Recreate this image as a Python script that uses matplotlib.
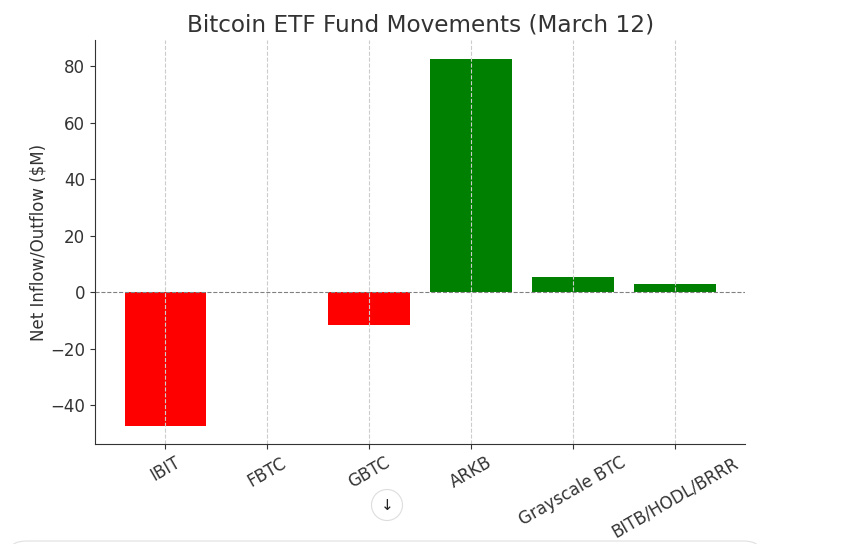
import matplotlib
matplotlib.use("Agg")
import matplotlib.pyplot as plt
from matplotlib.patches import Circle, FancyBboxPatch

funds = ["IBIT", "FBTC", "GBTC", "ARKB", "Grayscale BTC", "BITB/HODL/BRRR"]
flows = [-47.1, 0.0, -11.7, 82.6, 5.4, 2.9]
colors = ["red" if v < 0 else "green" for v in flows]

plt.rcParams['font.family'] = ['DejaVu Sans']
fig = plt.figure(figsize=(8.41, 5.44), dpi=100)
ax = fig.add_axes([0.113, 0.184, 0.773, 0.742])

ax.bar(funds, flows, color=colors, width=0.8)
ax.axhline(0, color="gray", linestyle="--", linewidth=0.8)
ax.grid(axis="x", linestyle="--", color="#cccccc", linewidth=0.8)

ax.set_title("Bitcoin ETF Fund Movements (March 12)", fontsize=16.7, color="#333333")
ax.set_ylabel("Net Inflow/Outflow ($M)", fontsize=12, color="#333333", labelpad=2)
ax.tick_params(axis="both", labelsize=12, colors="#333333")
plt.setp(ax.get_xticklabels(), rotation=30)
for s in ["top", "right"]:
    ax.spines[s].set_visible(False)
for s in ["left", "bottom"]:
    ax.spines[s].set_color("#333333")

# screenshot UI elements
fig.patches.append(Circle((3.87, (544 - 505) / 100), 0.155, transform=fig.dpi_scale_trans,
                          facecolor="white", edgecolor="#dddddd", linewidth=0.8))
fig.text(387 / 841, 1 - 505 / 544, "↓", ha="center", va="center", fontsize=11, color="#222222")
fig.patches.append(FancyBboxPatch((10 / 841, -0.05), 750 / 841, (0.05 + 3 / 544),
                                  boxstyle="round,pad=0,rounding_size=0.02",
                                  transform=fig.transFigure, facecolor="white",
                                  edgecolor="#e0e0e0", linewidth=0.8))

fig.savefig("out.png", dpi=100)
